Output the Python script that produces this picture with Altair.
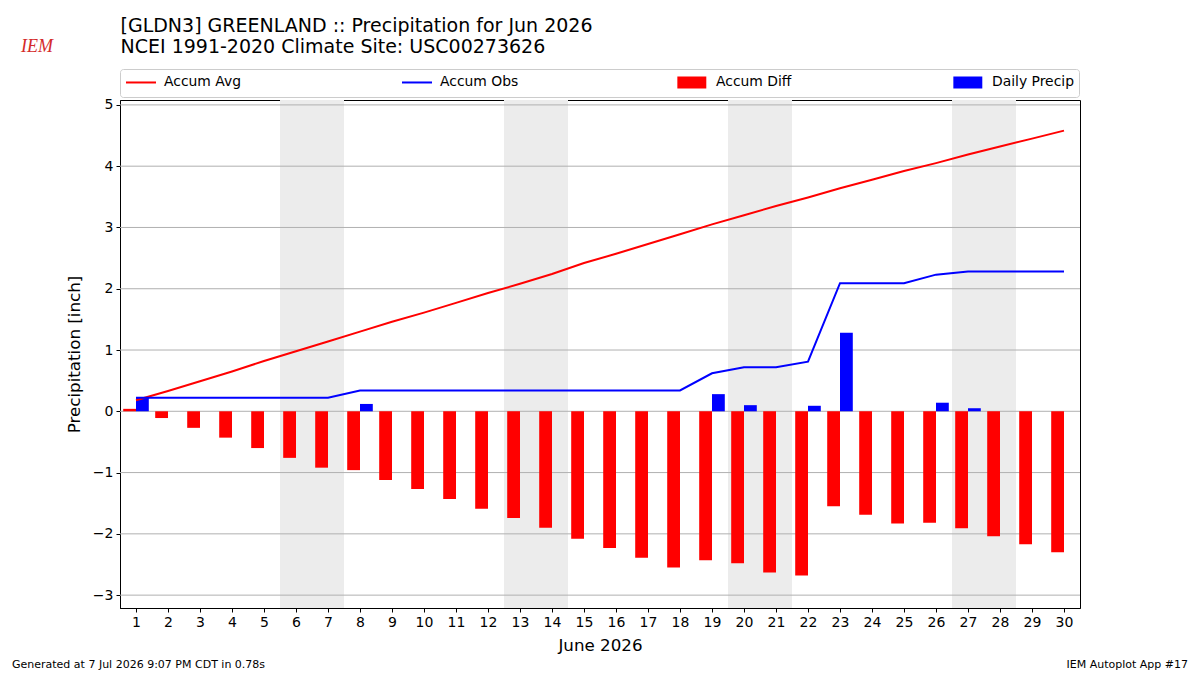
import altair as alt
import pandas as pd

# ---- data -----------------------------------------------------------------
days = list(range(1, 31))

# climatological accumulated precipitation (inch)
accum_avg = [0.18, 0.33, 0.49, 0.65, 0.82, 0.98, 1.14, 1.30, 1.46, 1.61,
             1.77, 1.93, 2.08, 2.24, 2.42, 2.57, 2.73, 2.89, 3.05, 3.20,
             3.35, 3.49, 3.64, 3.78, 3.92, 4.05, 4.19, 4.32, 4.45, 4.58]

# observed daily precipitation (inch)
daily_precip = [0.22, 0.00, 0.00, 0.00, 0.00, 0.00, 0.00, 0.12, 0.00, 0.00,
                0.00, 0.00, 0.00, 0.00, 0.00, 0.00, 0.00, 0.00, 0.28, 0.10,
                0.00, 0.09, 1.28, 0.00, 0.00, 0.14, 0.05, 0.00, 0.00, 0.00]

weekend_days = [6, 7, 13, 14, 20, 21, 27, 28]
y_ticks = [-3, -2, -1, 0, 1, 2, 3, 4, 5]

series_names = ["Accum Avg", "Accum Obs", "Accum Diff", "Daily Precip"]
series_colors = ["red", "blue", "red", "blue"]

title_line1 = "[GLDN3] GREENLAND :: Precipitation for Jun 2026"
title_line2 = "NCEI 1991-2020 Climate Site: USC00273626"
footer_left = "Generated at 7 Jul 2026 9:07 PM CDT in 0.78s"
footer_right = "IEM Autoplot App #17"

# ---- derived tables -------------------------------------------------------
accum_obs = []
running = 0.0
for p in daily_precip:
    running += p
    accum_obs.append(round(running, 2))
accum_diff = [round(o - a, 2) for o, a in zip(accum_obs, accum_avg)]

lines_df = pd.concat([
    pd.DataFrame({"day": days, "value": accum_avg, "series": "Accum Avg"}),
    pd.DataFrame({"day": days, "value": accum_obs, "series": "Accum Obs"}),
])
diff_df = pd.DataFrame({"day": days, "value": accum_diff, "series": "Accum Diff"})
precip_df = pd.DataFrame({"day": days, "value": daily_precip, "series": "Daily Precip"})
weekend_df = pd.DataFrame({"day": weekend_days})
grid_df = pd.DataFrame({"v": y_ticks})

# ---- geometry ---------------------------------------------------------------
W, H = 960, 508
FONT = "DejaVu Sans"

x_scale = alt.Scale(domain=[0.5, 30.5], nice=False, zero=False)
y_scale = alt.Scale(domain=[-3.21, 5.08], nice=False, zero=False)

x_axis = alt.Axis(values=days, grid=False, tickSize=4, labelFontSize=14,
                  labelPadding=3, title="June 2026", titleFontSize=16.7,
                  titleFontWeight="normal", titlePadding=8,
                  domainColor="black", tickColor="black", labelColor="black",
                  labelFlush=False)
y_axis = alt.Axis(values=y_ticks, grid=False, tickSize=4, labelFontSize=14,
                  labelPadding=3, title="Precipitation [inch]",
                  titleFontSize=16.7, titleFontWeight="normal", titlePadding=9,
                  domainColor="black", tickColor="black", labelColor="black")

# legend keys: the first two entries are lines, the last two filled patches.
# Symbols are 14 px nominal; the paths extend to the right of that box.
# The zero-length moves give the line keys the same height as the patches.
line_shape = "M-1,0H3.29M-0.95,-0.72L-0.95,-0.72M-0.95,0.72L-0.95,0.72"
patch_shape = "M-0.95,-0.72H2.9V0.72H-0.95Z"
legend = alt.Legend(
    title=None, orient="none", legendX=0, legendY=-31,
    direction="horizontal", columns=4, gridAlign="all", columnPadding=152,
    labelFontSize=13.9, labelFont=FONT, labelColor="black", labelOffset=23,
    symbolSize=196, padding=5, fillColor="white", strokeColor="#cccccc",
    cornerRadius=3, symbolStrokeWidth=2, symbolOpacity=1,
    symbolType=alt.ExprRef(
        expr=f"datum.index < 2 ? '{line_shape}' : '{patch_shape}'"),
    symbolFillColor=alt.ExprRef(
        expr="datum.index < 2 ? 'transparent' : (datum.index % 2 == 0 ? 'red' : 'blue')"),
    symbolStrokeColor=alt.ExprRef(
        expr="datum.index < 2 ? (datum.index % 2 == 0 ? 'red' : 'blue') : 'transparent'"),
)
color_scale = alt.Scale(domain=series_names, range=series_colors)

# weekend shading
shade = alt.Chart(weekend_df).mark_rect(color="#ececec").transform_calculate(
    x0="datum.day - 0.5", x1="datum.day + 0.5"
).encode(
    x=alt.X("x0:Q", scale=x_scale, axis=x_axis),
    x2="x1:Q",
    y=alt.value(0),
    y2=alt.value(H),
)

# horizontal grid
grid = alt.Chart(grid_df).mark_rule(color="#b0b0b0", strokeWidth=1).encode(
    y=alt.Y("v:Q", scale=y_scale, axis=y_axis)
)

# accumulated departure, bar to the left of each day
diff_bars = alt.Chart(diff_df).mark_rect().transform_calculate(
    x0="datum.day - 0.4", x1="datum.day"
).encode(
    x=alt.X("x0:Q", scale=x_scale, axis=x_axis),
    x2="x1:Q",
    y=alt.Y("value:Q", scale=y_scale, axis=y_axis),
    y2=alt.datum(0),
    color=alt.Color("series:N", scale=color_scale, legend=legend),
)

# daily precipitation, bar to the right of each day
precip_bars = alt.Chart(precip_df).mark_rect().transform_calculate(
    x0="datum.day", x1="datum.day + 0.4"
).encode(
    x=alt.X("x0:Q", scale=x_scale, axis=x_axis),
    x2="x1:Q",
    y=alt.Y("value:Q", scale=y_scale, axis=y_axis),
    y2=alt.datum(0),
    color=alt.Color("series:N", scale=color_scale, legend=legend),
)

# accumulated average and observed lines
lines = alt.Chart(lines_df).mark_line(strokeWidth=2).encode(
    x=alt.X("day:Q", scale=x_scale, axis=x_axis),
    y=alt.Y("value:Q", scale=y_scale, axis=y_axis),
    color=alt.Color("series:N", scale=color_scale, legend=legend),
    detail="series:N",
)


def label(text, x, y, size, align="left", font=FONT, color="black", style="normal"):
    """A free-standing text placed relative to the plot origin."""
    return alt.Chart(pd.DataFrame({"t": [text]})).mark_text(
        align=align, baseline="alphabetic", fontSize=size, font=font,
        color=color, fontStyle=style
    ).encode(x=alt.value(x), y=alt.value(y), text="t:N")


title1 = label(title_line1, 0.5, -68.5, 19)
title2 = label(title_line2, 0.5, -46.7, 19)
footer_l = label(footer_left, -108, 568, 11)
footer_r = label(footer_right, 1068, 568, 11, align="right")
logo = label("IEM", -99, -48, 18, font="Liberation Serif", color="#d42a2a",
             style="italic")

chart = alt.layer(
    shade, grid, diff_bars, precip_bars, lines,
    title1, title2, footer_l, footer_r, logo
).properties(
    width=W, height=H,
    autosize=alt.AutoSizeParams(type="none"),
    padding={"left": 120, "top": 100, "right": 120, "bottom": 67},
).configure(
    font=FONT, background="white"
).configure_view(
    stroke="black", strokeWidth=1
).configure_axis(
    labelFont=FONT, titleFont=FONT
)

chart.save("out.html", embed_options={"renderer": "svg", "actions": False})
